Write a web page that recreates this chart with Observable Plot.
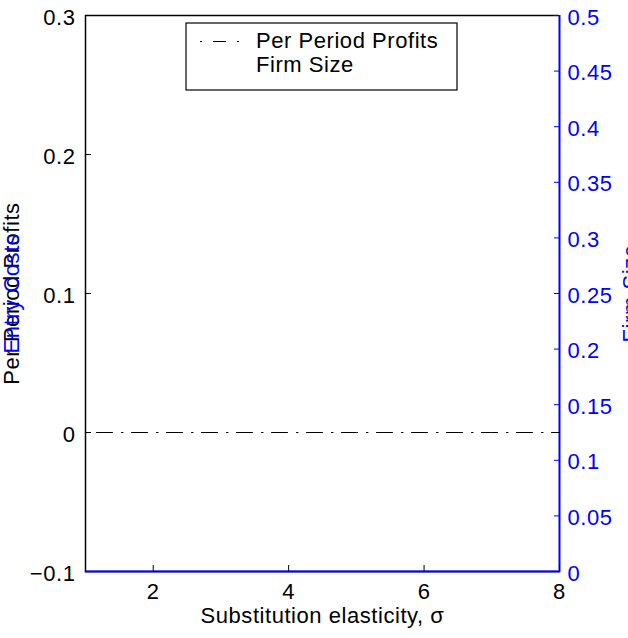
<!DOCTYPE html>
<html>
<head>
<meta charset="utf-8">
<script src="https://cdn.jsdelivr.net/npm/d3@7"></script>
<script src="https://cdn.jsdelivr.net/npm/@observablehq/plot@0.6"></script>
<style>
  html, body { margin: 0; padding: 0; background: #fff; overflow: hidden; }
</style>
</head>
<body>
<div id="chart"></div>
<script>
// ---- data ----
const sigma = [1, 2, 3, 4, 5, 6, 7, 8];
const profits = [0, 0, 0, 0, 0, 0, 0, 0];
const firmSize = [0, 0, 0, 0, 0, 0, 0, 0];

const xDomain = [1, 8];
const leftDomain = [-0.1, 0.3];
const rightDomain = [0, 0.5];

const xTicks = [2, 4, 6, 8];
const xTickLabels = ["2", "4", "6", "8"];
const leftTicks = [-0.1, 0, 0.1, 0.2, 0.3];
const leftTickLabels = ["\u22120.1", "0", "0.1", "0.2", "0.3"];
const rightTicks = [0, 0.05, 0.1, 0.15, 0.2, 0.25, 0.3, 0.35, 0.4, 0.45, 0.5];
const rightTickLabels = ["0", "0.05", "0.1", "0.15", "0.2", "0.25", "0.3", "0.35", "0.4", "0.45", "0.5"];

const xLabel = "Substitution elasticity, \u03C3";
const leftLabel = "Per Period Profits";
const leftLabel2 = "Entry Costs";
const rightLabel = "Firm Size";
const legendLabels = ["Per Period Profits", "Firm Size"];

// ---- helpers ----
const blue = "#0000ff";
const font = "'Liberation Sans', Arial, Helvetica, sans-serif";
const toLeft = v => +(leftDomain[0] + (v - rightDomain[0]) * (leftDomain[1] - leftDomain[0]) / (rightDomain[1] - rightDomain[0])).toFixed(10);
const rightTicksL = rightTicks.map(toLeft);

const profitData = sigma.map((s, i) => ({sigma: s, value: profits[i]}));
const firmData = sigma.map((s, i) => ({sigma: s, value: toLeft(firmSize[i])}));

const chart = Plot.plot({
  width: 628,
  height: 638,
  marginLeft: 85,
  marginRight: 69,
  marginTop: 15,
  marginBottom: 67,
  style: {fontFamily: font, fontSize: "22px", letterSpacing: "0.55px", background: "white", color: "black"},
  x: {domain: xDomain, axis: null},
  y: {domain: leftDomain, axis: null},
  marks: [
    // frame
    Plot.ruleY([leftDomain[0]], {stroke: "black", strokeWidth: 1.5}),
    Plot.ruleX([xDomain[0]], {stroke: "black", strokeWidth: 1.5}),
    Plot.ruleY([leftDomain[1]], {stroke: "black", strokeWidth: 1.5}),
    Plot.ruleX([xDomain[1]], {stroke: blue, strokeWidth: 2}),
    // inward ticks
    Plot.axisX({ticks: xTicks, anchor: "bottom", tickSize: 6, dy: -6, tickFormat: () => "", label: null, stroke: "black"}),
    Plot.axisY({ticks: leftTicks, anchor: "left", tickSize: 6, dx: 6, tickFormat: () => "", label: null, stroke: "black"}),
    Plot.axisY({ticks: rightTicksL, anchor: "right", tickSize: 6, dx: -6, tickFormat: () => "", label: null, stroke: blue}),
    // tick labels
    Plot.axisX({ticks: xTicks, anchor: "bottom", tickSize: 0, tickPadding: 12, label: null,
      tickFormat: d => xTickLabels[xTicks.indexOf(d)], fill: "black"}),
    Plot.axisY({ticks: leftTicks, anchor: "left", tickSize: 0, tickPadding: 10, dy: 2, label: null,
      tickFormat: d => leftTickLabels[leftTicks.indexOf(d)], fill: "black"}),
    Plot.axisY({ticks: rightTicksL, anchor: "right", tickSize: 0, tickPadding: 8, dy: 2, label: null,
      tickFormat: d => rightTickLabels[rightTicksL.indexOf(d)], fill: blue}),
    // data
    Plot.line(profitData, {x: "sigma", y: "value", stroke: "black", strokeWidth: 1,
      strokeDasharray: "16,9,1.5,8.5", strokeDashoffset: 24}),
    Plot.line(firmData, {x: "sigma", y: "value", stroke: blue, strokeWidth: 2}),
    // axis titles
    Plot.text([xLabel], {text: d => d, frameAnchor: "bottom", dy: 51, fill: "black", textAnchor: "middle"}),
    Plot.text([leftLabel], {text: d => d, frameAnchor: "left", dx: -74, rotate: -90, fill: "black", textAnchor: "middle"}),
    Plot.text([leftLabel2], {text: d => d, frameAnchor: "left", dx: -74, rotate: -90, fill: blue, textAnchor: "middle"}),
    Plot.text([rightLabel], {text: d => d, frameAnchor: "right", dx: 71, rotate: -90, fill: blue, textAnchor: "middle"})
  ]
});

// legend
const svg = d3.select(chart);
const lg = svg.append("g").attr("font-family", font).attr("font-size", 22)
  .attr("letter-spacing", "0.55px").attr("text-anchor", "start");
lg.append("rect").attr("x", 186).attr("y", 23).attr("width", 271).attr("height", 67)
  .attr("fill", "white").attr("stroke", "black").attr("stroke-width", 1.2);
lg.append("path").attr("d", "M200,41.5H202M213,41.5H226M237,41.5H239")
  .attr("stroke", "black").attr("stroke-width", 1).attr("fill", "none");
lg.selectAll("text.leg").data(legendLabels).join("text")
  .attr("class", "leg")
  .attr("x", 256)
  .attr("y", (d, i) => 48 + i * 24)
  .attr("fill", "black")
  .attr("text-anchor", "start")
  .text(d => d);

document.getElementById("chart").appendChild(chart);
</script>
</body>
</html>
